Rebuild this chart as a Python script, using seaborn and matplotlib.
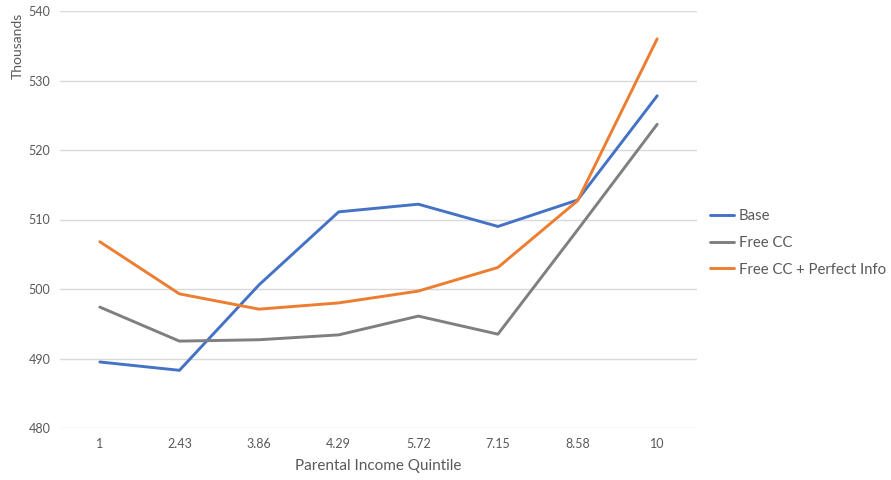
import numpy as np
import pandas as pd
import matplotlib
matplotlib.use("Agg")
import matplotlib.pyplot as plt
import seaborn as sns

quintiles = ["1", "2.43", "3.86", "4.29", "5.72", "7.15", "8.58", "10"]
base = [489.5, 488.3, 500.6, 511.1, 512.2, 509.0, 512.8, 527.8]
free_cc = [497.4, 492.5, 492.7, 493.4, 496.1, 493.5, 508.5, 523.7]
free_cc_info = [506.8, 499.3, 497.1, 498.0, 499.7, 503.1, 512.7, 536.0]
series_names = ["Base", "Free CC", "Free CC + Perfect Info"]
palette = ["#4472C4", "#7F7F7F", "#ED7D31"]

pos = np.arange(len(quintiles))
df = pd.concat([
    pd.DataFrame({"pos": pos, "value": vals, "series": name})
    for name, vals in zip(series_names, [base, free_cc, free_cc_info])
])

sns.set_theme(style="white")
plt.rcParams["font.family"] = ["Lato", "DejaVu Sans"]

fig = plt.figure(figsize=(8.91, 4.8), dpi=100)
ax = fig.add_axes([60 / 891, 1 - 428 / 480, (697 - 60) / 891, (428 - 11) / 480])

sns.lineplot(data=df, x="pos", y="value", hue="series", palette=palette,
             hue_order=series_names, linewidth=2.1, sort=False, ax=ax,
             legend=True)

ax.set_xlim(-0.5, len(quintiles) - 0.5)
ax.set_ylim(480, 540)
ax.set_yticks(np.arange(480, 541, 10))
ax.set_xticks(pos)
ax.set_xticklabels(quintiles)
ax.grid(axis="y", color="#d9d9d9", linewidth=1)
ax.set_axisbelow(True)
for side in ["top", "right", "left", "bottom"]:
    ax.spines[side].set_visible(False)
ax.tick_params(axis="both", length=0, labelsize=9, colors="#595959")
ax.tick_params(axis="x", pad=7)
ax.tick_params(axis="y", pad=7)

ax.set_xlabel("Parental Income Quintile", fontsize=11, color="#595959", labelpad=7)
ax.set_ylabel("")
fig.text(18 / 891, 1 - 46 / 480, "Thousands", rotation=90, ha="center", va="center",
         fontsize=10, color="#595959")

handles, labels = ax.get_legend_handles_labels()
ax.legend(handles, labels, loc="center left", bbox_to_anchor=(1.0, (428 - 243) / 417),
          frameon=False, fontsize=10.7, handlelength=1.6, handletextpad=0.3,
          labelcolor="#595959", labelspacing=0.85, borderaxespad=0.5)

fig.savefig("out.png", dpi=100)
